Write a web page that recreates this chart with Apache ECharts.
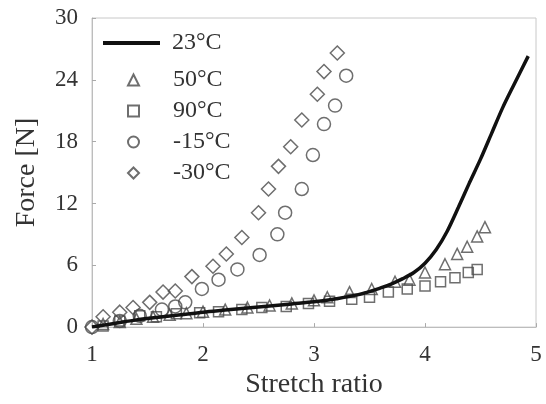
<!DOCTYPE html>
<html><head><meta charset="utf-8">
<script src="https://cdn.jsdelivr.net/npm/echarts@6/dist/echarts.min.js"></script>
<style>html,body{margin:0;padding:0;background:#fff}#c{width:546px;height:404px}</style>
</head><body><div id="c"></div>
<script>
var xTicks = [1, 2, 3, 4, 5];
var yTicks = [0, 6, 12, 18, 24, 30];
var lineLegend = ['23°C'];
var symbolLegend = ['50°C', '90°C', '-15°C', '-30°C'];

var x23 = [1.0,1.2,1.4,1.6,1.8,2.0,2.2,2.4,2.6,2.8,3.0,3.2,3.4,3.6,3.7,3.8,3.9,4.0,4.1,4.2,4.3,4.4,4.5,4.6,4.7,4.8,4.93];
var y23 = [0,0.35,0.7,0.95,1.2,1.45,1.65,1.85,2.05,2.25,2.45,2.75,3.15,3.8,4.2,4.7,5.3,6.2,7.5,9.3,11.6,14.0,16.3,18.8,21.3,23.5,26.3];

var x50 = [1.1,1.25,1.4,1.55,1.7,1.85,2.0,2.2,2.4,2.6,2.8,3.0,3.12,3.32,3.52,3.73,3.86,4.0,4.18,4.29,4.38,4.47,4.54];
var y50 = [0.3,0.5,0.8,1.0,1.2,1.35,1.5,1.7,1.9,2.1,2.3,2.6,2.9,3.4,3.7,4.4,4.6,5.3,6.1,7.1,7.8,8.8,9.7];

var x90 = [1.1,1.25,1.43,1.58,1.76,1.97,2.14,2.35,2.53,2.75,2.95,3.14,3.34,3.5,3.67,3.84,4.0,4.14,4.27,4.39,4.47];
var y90 = [0.1,0.6,1.1,1.0,1.3,1.4,1.5,1.7,1.9,2.0,2.3,2.5,2.7,2.9,3.4,3.7,4.0,4.4,4.8,5.3,5.6];

var xm15 = [1.0,1.25,1.43,1.63,1.75,1.84,1.99,2.14,2.31,2.51,2.67,2.74,2.89,2.99,3.09,3.19,3.29];
var ym15 = [0,0.6,1.1,1.7,2.0,2.4,3.7,4.6,5.6,7.0,9.0,11.1,13.4,16.7,19.7,21.5,24.4];

var xm30 = [1.0,1.1,1.25,1.37,1.52,1.64,1.75,1.9,2.09,2.21,2.35,2.5,2.59,2.68,2.79,2.89,3.03,3.09,3.21];
var ym30 = [0,1.0,1.45,1.9,2.4,3.4,3.5,4.9,5.9,7.1,8.7,11.1,13.4,15.6,17.5,20.1,22.6,24.8,26.6];

function pairs(xs, ys) { return xs.map(function (v, i) { return [v, ys[i]]; }); }

var font = 'Liberation Serif';
var mk = '#4a4a4a';
function scat(name, sym, size, xs, ys) {
  return {
    name: name, type: 'scatter', symbol: sym, symbolSize: size,
    data: pairs(xs, ys),
    itemStyle: { color: 'rgba(0,0,0,0)', borderColor: mk, borderWidth: 1.5 },
    z: 2
  };
}
var legText = { fontFamily: font, fontSize: 24, color: '#333' };

var chart = echarts.init(document.getElementById('c'), null, { renderer: 'canvas' });
chart.setOption({
  animation: false,
  backgroundColor: '#fff',
  grid: { left: 92, right: 10, top: 18, bottom: 76, show: true, borderColor: '#c8c8c8', borderWidth: 1 },
  legend: [
    { orient: 'vertical', left: 103, top: 31, padding: 0, itemWidth: 57, itemHeight: 4, icon: 'rect',
      data: lineLegend, textStyle: Object.assign({ padding: [0, 0, 0, 7] }, legText) },
    { orient: 'vertical', left: 127, top: 68, padding: 0, itemWidth: 11, itemHeight: 11, itemGap: 7,
      data: symbolLegend, textStyle: Object.assign({ padding: [0, 0, 0, 29] }, legText) }
  ],
  xAxis: {
    type: 'value', min: xTicks[0], max: xTicks[xTicks.length - 1], interval: 1,
    name: 'Stretch ratio', nameLocation: 'middle', nameGap: 41,
    nameTextStyle: { fontFamily: font, fontSize: 28, color: '#333' },
    axisLine: { lineStyle: { color: '#bdbdbd' } },
    axisTick: { inside: true, length: 4, lineStyle: { color: '#aaa' } },
    axisLabel: { fontFamily: font, fontSize: 23, color: '#333', margin: 16 },
    splitLine: { show: false }
  },
  yAxis: {
    type: 'value', min: yTicks[0], max: yTicks[yTicks.length - 1], interval: 6,
    name: 'Force [N]', nameLocation: 'middle', nameGap: 51, nameRotate: 90,
    nameTextStyle: { fontFamily: font, fontSize: 28, color: '#333' },
    axisLine: { show: true, lineStyle: { color: '#bdbdbd' } },
    axisTick: { show: true, inside: true, length: 4, lineStyle: { color: '#aaa' } },
    axisLabel: { fontFamily: font, fontSize: 23, color: '#333', margin: 14 },
    splitLine: { show: false }
  },
  series: [
    { name: '23°C', type: 'line', data: pairs(x23, y23), symbol: 'none', smooth: 0.3,
      lineStyle: { color: '#111', width: 3.5 }, itemStyle: { color: '#111' }, z: 5 },
    scat('50°C', 'triangle', 11, x50, y50),
    scat('90°C', 'rect', 10, x90, y90),
    scat('-15°C', 'circle', 13, xm15, ym15),
    scat('-30°C', 'diamond', 14, xm30, ym30)
  ]
});
</script>
</body></html>
